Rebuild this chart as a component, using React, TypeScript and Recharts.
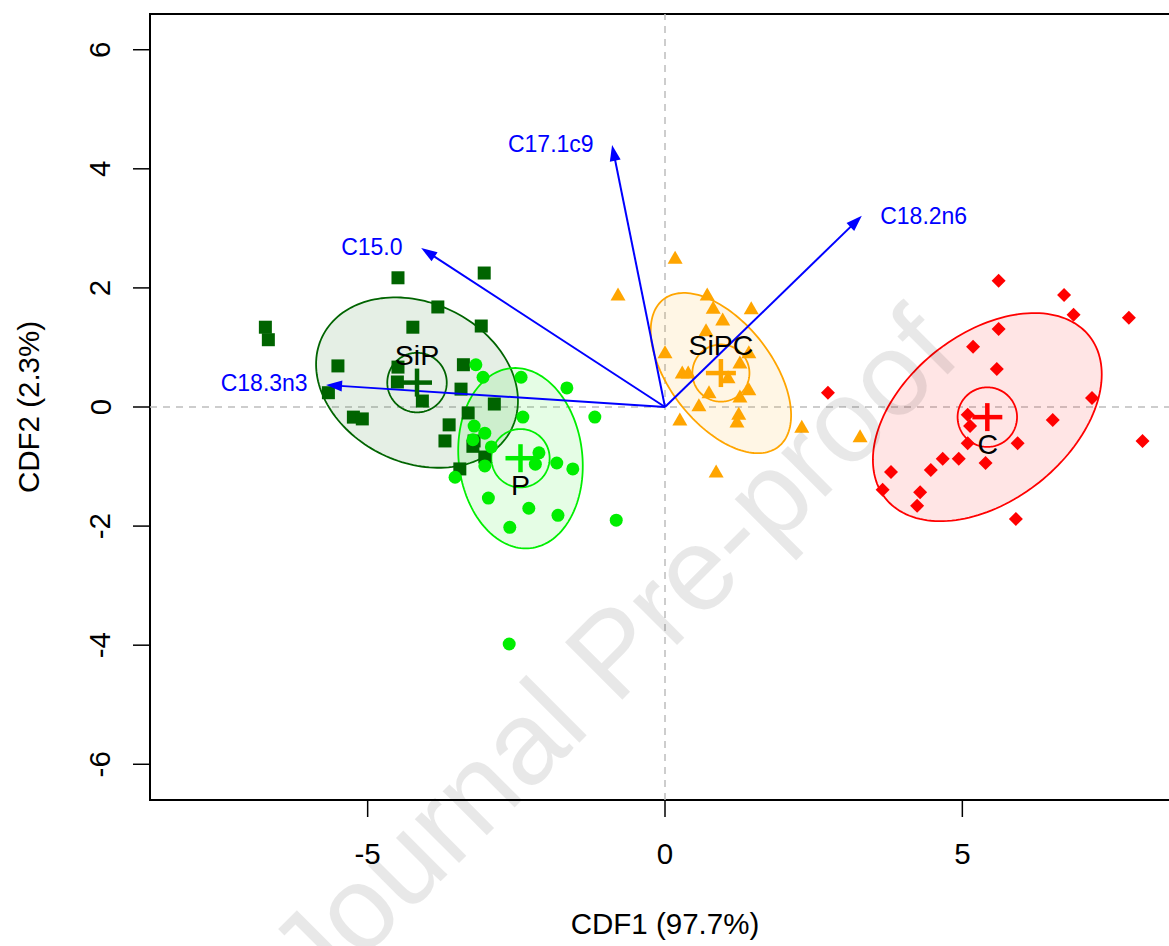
import React from "react";
import { ScatterChart, Scatter, XAxis, YAxis, ReferenceLine, ReferenceArea, Label } from "recharts";

const X_DOMAIN: [number, number] = [-8.66, 8.66];
const Y_DOMAIN: [number, number] = [-6.6, 6.6];
const X_TICKS = [-5, 0, 5];
const Y_TICKS = [-6, -4, -2, 0, 2, 4, 6];

const SIP_POINTS = [
  [-6.72, 1.34], [-6.67, 1.13], [-4.49, 2.17], [-3.04, 2.25], [-3.82, 1.68], [-4.24, 1.34],
  [-3.09, 1.36], [-5.5, 0.69], [-4.49, 0.67], [-4.5, 0.42], [-3.39, 0.71], [-3.43, 0.3],
  [-4.08, 0.1], [-5.66, 0.24], [-5.24, -0.17], [-5.09, -0.2], [-2.87, 0.05], [-3.31, -0.1],
  [-3.63, -0.3], [-3.7, -0.57], [-3.21, -0.57], [-3.23, -0.66], [-3.03, -0.84], [-3.45, -1.04],
];
const P_POINTS = [
  [-3.18, 0.71], [-3.06, 0.5], [-2.42, 0.5], [-1.65, 0.32], [-2.39, -0.17], [-1.18, -0.17],
  [-3.21, -0.32], [-3.03, -0.44], [-3.23, -0.55], [-2.92, -0.67], [-2.12, -0.77], [-2.18, -0.96],
  [-1.82, -0.94], [-1.55, -1.04], [-3.03, -0.99], [-3.53, -1.18], [-2.97, -1.53], [-2.29, -1.7],
  [-1.8, -1.82], [-2.61, -2.02], [-0.82, -1.9], [-2.62, -3.98],
];
const SIPC_POINTS = [
  [0.17, 2.5], [-0.79, 1.88], [0.71, 1.88], [0.81, 1.66], [1.45, 1.65], [0.97, 1.46],
  [0.69, 1.28], [0.0, 0.91], [1.41, 0.91], [1.26, 0.74], [0.29, 0.57], [0.39, 0.57],
  [1.06, 0.49], [1.41, 0.29], [0.74, 0.24], [1.26, 0.17], [0.57, 0.02], [1.24, -0.12],
  [1.21, -0.25], [0.25, -0.22], [2.3, -0.34], [3.28, -0.5], [0.86, -1.09],
];
const C_POINTS = [
  [5.61, 2.12], [6.71, 1.88], [6.87, 1.55], [7.8, 1.5], [5.61, 1.31], [5.18, 1.01],
  [5.58, 0.64], [2.74, 0.24], [7.18, 0.15], [5.09, -0.13], [5.13, -0.32], [6.52, -0.22],
  [5.09, -0.61], [5.93, -0.61], [8.03, -0.57], [4.67, -0.87], [4.94, -0.87], [5.39, -0.94],
  [4.47, -1.06], [3.8, -1.09], [3.66, -1.39], [4.29, -1.43], [4.24, -1.66], [5.9, -1.88],
];

const GROUP_NAMES = ["SiP", "P", "SiPC", "C"];
const GROUP_CENTROIDS = [[-4.17, 0.41], [-2.43, -0.86], [0.94, 0.57], [5.42, -0.17]];
const GROUP_LABEL_POS = [[-4.17, 0.88], [-2.43, -1.31], [0.94, 1.04], [5.43, -0.62]];
const ELLIPSE_AXES = [[1.77, 1.34], [1.52, 1.04], [1.57, 0.86], [2.19, 1.4]];
const ELLIPSE_ANGLES = [-25.7, -83.6, -52, 38.4];
const INNER_RADII = [0.5, 0.49, 0.48, 0.5];

const LOADING_NAMES = ["C15.0", "C17.1c9", "C18.2n6", "C18.3n3"];
const LOADING_TIPS = [[-4.1, 2.67], [-0.89, 4.4], [3.31, 3.21], [-5.7, 0.37]];
const LOADING_LABEL_POS = [[-4.93, 2.69], [-1.92, 4.42], [4.35, 3.21], [-6.74, 0.4]];

const COLORS = ["#006400", "#00ee00", "#ffa500", "#ff0000"];
const BLUE = "#0000ff";
const FONT = "'Liberation Sans', Arial, Helvetica, sans-serif";

const toPts = (arr: number[][]) => arr.map(([x, y]) => ({ x, y }));

function ellipsePoints(c: number[], ax: number[], angleDeg: number, n = 160) {
  const phi = (angleDeg * Math.PI) / 180;
  const pts = [];
  for (let i = 0; i <= n; i++) {
    const t = (2 * Math.PI * i) / n;
    const u = ax[0] * Math.cos(t);
    const v = ax[1] * Math.sin(t);
    pts.push({
      x: c[0] + u * Math.cos(phi) - v * Math.sin(phi),
      y: c[1] + u * Math.sin(phi) + v * Math.cos(phi),
    });
  }
  return pts;
}

const hidden = () => <g />;

const closedPath = (color: string, fillOpacity: number) => (props: any) => {
  const pts = props.points || [];
  const d = pts.map((p: any, i: number) => `${i ? "L" : "M"}${p.x},${p.y}`).join(" ") + " Z";
  return <path d={d} fill={fillOpacity > 0 ? color : "none"} fillOpacity={fillOpacity} stroke={color} strokeWidth={1.8} />;
};

const arrowPath = (props: any) => {
  const pts = props.points || [];
  if (pts.length < 2) return <g />;
  const a = pts[0];
  const b = pts[1];
  const dx = b.x - a.x;
  const dy = b.y - a.y;
  const len = Math.hypot(dx, dy);
  const ux = dx / len;
  const uy = dy / len;
  const hl = 16;
  const hw = 5.5;
  const bx = b.x - ux * hl;
  const by = b.y - uy * hl;
  return (
    <g>
      <line x1={a.x} y1={a.y} x2={bx + ux * 2} y2={by + uy * 2} stroke={BLUE} strokeWidth={2} />
      <polygon points={`${b.x},${b.y} ${bx - uy * hw},${by + ux * hw} ${bx + uy * hw},${by - ux * hw}`} fill={BLUE} />
    </g>
  );
};

const markers = [
  (p: any) => <rect x={p.cx - 6.5} y={p.cy - 6.5} width={13} height={13} fill={COLORS[0]} />,
  (p: any) => <circle cx={p.cx} cy={p.cy} r={6.5} fill={COLORS[1]} />,
  (p: any) => (
    <polygon points={`${p.cx},${p.cy - 7.5} ${p.cx - 7.5},${p.cy + 5.5} ${p.cx + 7.5},${p.cy + 5.5}`} fill={COLORS[2]} />
  ),
  (p: any) => (
    <polygon points={`${p.cx},${p.cy - 7} ${p.cx + 7},${p.cy} ${p.cx},${p.cy + 7} ${p.cx - 7},${p.cy}`} fill={COLORS[3]} />
  ),
];

const crossShape = (color: string) => (p: any) => (
  <g stroke={color} strokeWidth={4.5}>
    <line x1={p.cx - 15} y1={p.cy} x2={p.cx + 15} y2={p.cy} />
    <line x1={p.cx} y1={p.cy - 14} x2={p.cx} y2={p.cy + 14} />
  </g>
);

const textShape = (text: string, color: string, size: number) => (p: any) => (
  <text x={p.cx} y={p.cy} fill={color} fontSize={size} fontFamily={FONT} textAnchor="middle" dominantBaseline="central">
    {text}
  </text>
);

const XTick = (props: any) => (
  <text x={props.x} y={props.y + 36} fontSize={29.5} fontFamily={FONT} fill="#000" textAnchor="middle" dominantBaseline="central">
    {props.payload.value}
  </text>
);

const YTick = (props: any) => {
  const x = props.x - 33;
  return (
    <text x={x} y={props.y} transform={`rotate(-90 ${x} ${props.y})`} fontSize={29.5} fontFamily={FONT} fill="#000" textAnchor="middle" dominantBaseline="central">
      {props.payload.value}
    </text>
  );
};

const POINT_SETS = [SIP_POINTS, P_POINTS, SIPC_POINTS, C_POINTS];

export default function App() {
  return (
    <div style={{ position: "absolute", left: 0, top: 0, width: 1169, height: 946, overflow: "hidden", background: "#fff", fontFamily: FONT }}>
      <ScatterChart width={1190} height={946} margin={{ top: 14, right: 10, bottom: 0, left: 0 }}>
        <XAxis
          type="number"
          dataKey="x"
          domain={X_DOMAIN}
          ticks={X_TICKS}
          allowDataOverflow
          height={146}
          axisLine={false}
          tickSize={17}
          tickMargin={0}
          tickLine={{ stroke: "#000", strokeWidth: 1.5 }}
          tick={<XTick />}
        >
          <Label
            value="CDF1 (97.7%)"
            content={() => (
              <text x={665} y={923} fontSize={29.5} fontFamily={FONT} fill="#000" textAnchor="middle" dominantBaseline="central">
                CDF1 (97.7%)
              </text>
            )}
          />
        </XAxis>
        <YAxis
          type="number"
          dataKey="y"
          domain={Y_DOMAIN}
          ticks={Y_TICKS}
          allowDataOverflow
          width={150}
          axisLine={false}
          tickSize={17}
          tickMargin={0}
          tickLine={{ stroke: "#000", strokeWidth: 1.5 }}
          tick={<YTick />}
        >
          <Label
            value="CDF2 (2.3%)"
            content={() => (
              <text x={28} y={407} transform="rotate(-90 28 407)" fontSize={29.5} fontFamily={FONT} fill="#000" textAnchor="middle" dominantBaseline="central">
                CDF2 (2.3%)
              </text>
            )}
          />
        </YAxis>
        <ReferenceLine x={0} stroke="#bdbdbd" strokeWidth={1.5} strokeDasharray="7 6" />
        <ReferenceLine y={0} stroke="#bdbdbd" strokeWidth={1.5} strokeDasharray="7 6" />
        <ReferenceArea x1={X_DOMAIN[0]} x2={X_DOMAIN[1]} y1={Y_DOMAIN[0]} y2={Y_DOMAIN[1]} fill="none" stroke="#000" strokeWidth={2} />

        {GROUP_NAMES.map((g, i) => (
          <Scatter
            key={`ell-${g}`}
            data={ellipsePoints(GROUP_CENTROIDS[i], ELLIPSE_AXES[i], ELLIPSE_ANGLES[i])}
            shape={hidden}
            line={closedPath(COLORS[i], 0.1)}
            isAnimationActive={false}
          />
        ))}
        {GROUP_NAMES.map((g, i) => (
          <Scatter
            key={`circ-${g}`}
            data={ellipsePoints(GROUP_CENTROIDS[i], [INNER_RADII[i], INNER_RADII[i]], 0)}
            shape={hidden}
            line={closedPath(COLORS[i], 0)}
            isAnimationActive={false}
          />
        ))}
        {POINT_SETS.map((set, i) => (
          <Scatter key={`pts-${GROUP_NAMES[i]}`} data={toPts(set)} shape={markers[i]} isAnimationActive={false} />
        ))}
        {LOADING_NAMES.map((n, i) => (
          <Scatter
            key={`arr-${n}`}
            data={[{ x: 0, y: 0 }, { x: LOADING_TIPS[i][0], y: LOADING_TIPS[i][1] }]}
            shape={hidden}
            line={arrowPath}
            isAnimationActive={false}
          />
        ))}
        {LOADING_NAMES.map((n, i) => (
          <Scatter
            key={`arrlab-${n}`}
            data={toPts([LOADING_LABEL_POS[i]])}
            shape={textShape(n, BLUE, 23)}
            isAnimationActive={false}
          />
        ))}
        {GROUP_NAMES.map((g, i) => (
          <Scatter key={`cross-${g}`} data={toPts([GROUP_CENTROIDS[i]])} shape={crossShape(COLORS[i])} isAnimationActive={false} />
        ))}
        {GROUP_NAMES.map((g, i) => (
          <Scatter key={`lab-${g}`} data={toPts([GROUP_LABEL_POS[i]])} shape={textShape(g, "#000", 28.5)} isAnimationActive={false} />
        ))}
      </ScatterChart>
      <svg width={1169} height={946} style={{ position: "absolute", left: 0, top: 0, pointerEvents: "none" }}>
        <text
          x={612}
          y={652}
          transform="rotate(-45 612 652)"
          fontSize={118}
          fontFamily={FONT}
          fill="#000"
          fillOpacity={0.09}
          textAnchor="middle"
          dominantBaseline="central"
        >
          Journal Pre-proof
        </text>
      </svg>
    </div>
  );
}
